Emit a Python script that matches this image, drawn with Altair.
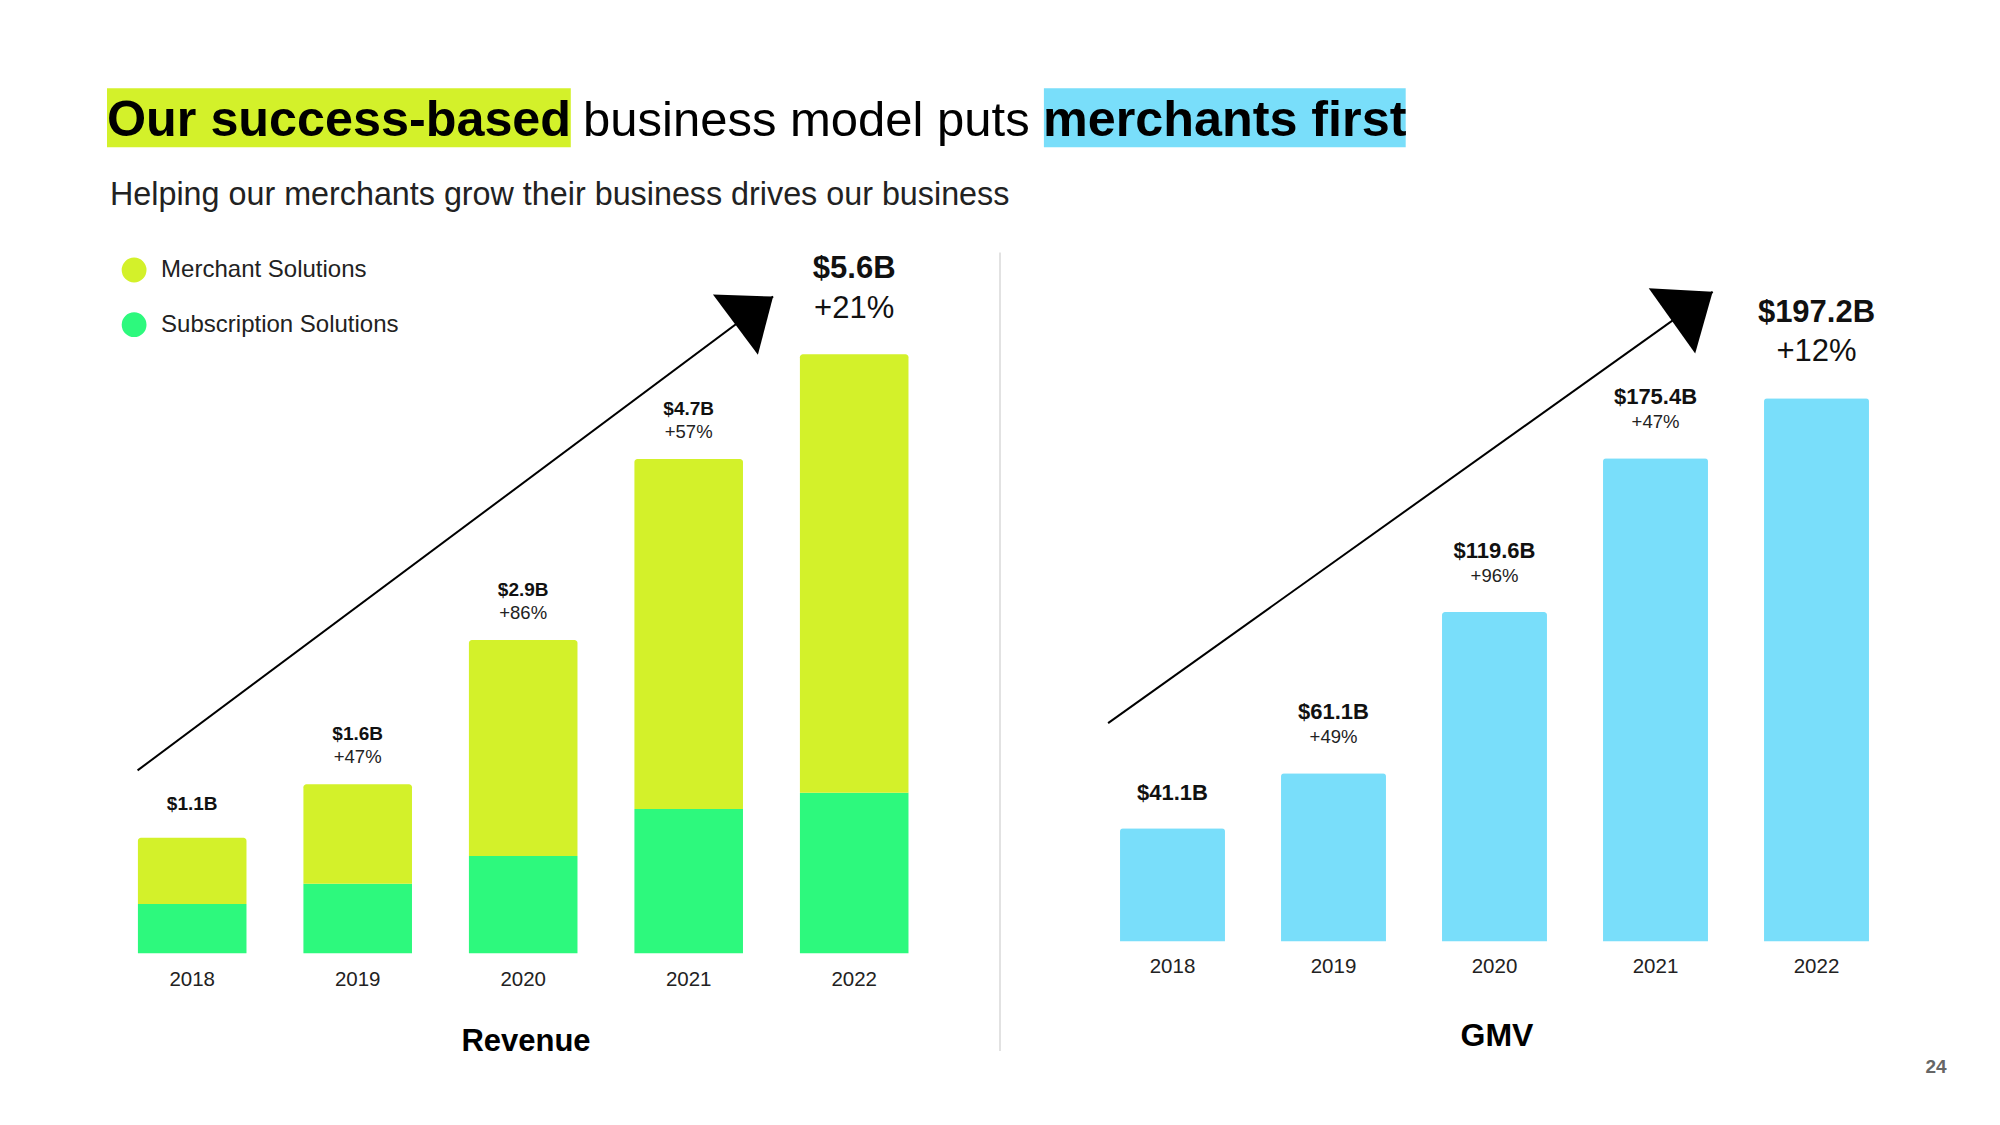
import altair as alt
import pandas as pd

# ---------------- data ----------------
years = ["2018", "2019", "2020", "2021", "2022"]
subscription_rev = [0.46, 0.65, 0.91, 1.35, 1.50]   # $B
merchant_rev = [0.62, 0.93, 2.02, 3.27, 4.10]        # $B
revenue_labels = ["$1.1B", "$1.6B", "$2.9B", "$4.7B", "$5.6B"]
revenue_growth = ["", "+47%", "+86%", "+57%", "+21%"]

gmv = [41.1, 61.1, 119.6, 175.4, 197.2]              # $B
gmv_labels = ["$41.1B", "$61.1B", "$119.6B", "$175.4B", "$197.2B"]
gmv_growth = ["", "+49%", "+96%", "+47%", "+12%"]

segments = ["Merchant Solutions", "Subscription Solutions"]
title_parts = ["Our success-based", "business model puts", "merchants first"]
subtitle = "Helping our merchants grow their business drives our business"
panel_titles = ["Revenue", "GMV"]
page_number = "24"

# trend arrows: x in year-index units, y in value units ($B)
rev_arrow_x = [-0.33, 3.51]
rev_arrow_y = [1.71, 6.14]
gmv_arrow_x = [-0.40, 3.355]
gmv_arrow_y = [79.3, 235.8]

# ---------------- style ----------------
W, H = 1984, 1109
FONT = "Liberation Sans"
C_MERCH = "#D3F12A"
C_SUB = "#2DF97D"
C_GMV = "#79DEFA"
HEAD = "M0,0L-2,-1.6L-2,1.6Z"

rev_x_scale = alt.Scale(domain=years, range=[101.45, 928.95], paddingInner=0.344, paddingOuter=0.172)
rev_xq_scale = alt.Scale(domain=[-0.5, 4.5], range=[101.45, 928.95], nice=False, zero=False)
rev_y_scale = alt.Scale(domain=[0, 6], range=[945.3, 303.5], nice=False, zero=False)
gmv_x_scale = alt.Scale(domain=years, range=[1084, 1889], paddingInner=0.348, paddingOuter=0.174)
gmv_xq_scale = alt.Scale(domain=[-0.5, 4.5], range=[1084, 1889], nice=False, zero=False)
gmv_y_scale = alt.Scale(domain=[0, 200], range=[933.6, 382.5], nice=False, zero=False)

# ---------------- tables ----------------
seg_rows = []
for y, s, m in zip(years, subscription_rev, merchant_rev):
    seg_rows.append({"year": y, "segment": "Subscription Solutions", "lo": 0.0, "hi": s})
    seg_rows.append({"year": y, "segment": "Merchant Solutions", "lo": s, "hi": s + m})
seg_df = pd.DataFrame(seg_rows)

rev_df = pd.DataFrame({
    "year": years,
    "total": [s + m for s, m in zip(subscription_rev, merchant_rev)],
    "label": revenue_labels,
    "growth": revenue_growth,
})
gmv_df = pd.DataFrame({"year": years, "value": gmv, "label": gmv_labels, "growth": gmv_growth})

rev_arrow = pd.DataFrame({"x": rev_arrow_x, "y": rev_arrow_y})
gmv_arrow = pd.DataFrame({"x": gmv_arrow_x, "y": gmv_arrow_y})

color_enc = alt.Color(
    "segment:N",
    scale=alt.Scale(domain=segments, range=[C_MERCH, C_SUB]),
    legend=alt.Legend(
        title=None, orient="none", legendX=113.6, legendY=249.5, direction="vertical",
        symbolType="circle", symbolSize=616, symbolStrokeWidth=0,
        labelFont=FONT, labelFontSize=24, labelColor="#222", labelOffset=14.5, labelLimit=0,
        rowPadding=29.7, padding=0,
    ),
)

layers = []

# ---------- revenue bars ----------
layers.append(
    alt.Chart(seg_df).transform_filter(alt.datum.segment == "Subscription Solutions")
    .mark_bar()
    .encode(
        x=alt.X("year:N", scale=rev_x_scale, axis=None),
        y=alt.Y("hi:Q", scale=rev_y_scale, axis=None),
        y2="lo:Q",
        color=color_enc,
    )
)
layers.append(
    alt.Chart(seg_df).transform_filter(alt.datum.segment == "Merchant Solutions")
    .mark_bar(cornerRadiusTopLeft=3, cornerRadiusTopRight=3)
    .encode(
        x=alt.X("year:N", scale=rev_x_scale, axis=None),
        y=alt.Y("hi:Q", scale=rev_y_scale, axis=None),
        y2="lo:Q",
        color=color_enc,
    )
)

# ---------- GMV bars ----------
layers.append(
    alt.Chart(gmv_df).mark_bar(color=C_GMV, cornerRadiusTopLeft=3, cornerRadiusTopRight=3)
    .encode(
        x=alt.X("year:N", scale=gmv_x_scale, axis=None),
        y=alt.Y("value:Q", scale=gmv_y_scale, axis=None),
    )
)


def label_layer(df, filt, xs, ys, yfield, textfield, dy, size, bold, color="#111"):
    return (
        alt.Chart(df).transform_filter(filt)
        .mark_text(dy=dy, fontSize=size, font=FONT, fontWeight="bold" if bold else "normal",
                   color=color, baseline="alphabetic", align="center")
        .encode(
            x=alt.X("year:N", scale=xs, axis=None),
            y=alt.Y(f"{yfield}:Q", scale=ys, axis=None),
            text=f"{textfield}:N",
        )
    )


first = "datum.year == '2018'"
middle = "datum.year != '2018' && datum.year != '2022'"
last = "datum.year == '2022'"

# revenue labels
layers += [
    label_layer(rev_df, first, rev_x_scale, rev_y_scale, "total", "label", -28, 19, True),
    label_layer(rev_df, middle, rev_x_scale, rev_y_scale, "total", "label", -44, 19, True),
    label_layer(rev_df, middle, rev_x_scale, rev_y_scale, "total", "growth", -21, 18.5, False, "#222"),
    label_layer(rev_df, last, rev_x_scale, rev_y_scale, "total", "label", -76, 31, True),
    label_layer(rev_df, last, rev_x_scale, rev_y_scale, "total", "growth", -36, 31, False),
]
# gmv labels
layers += [
    label_layer(gmv_df, first, gmv_x_scale, gmv_y_scale, "value", "label", -28, 22, True),
    label_layer(gmv_df, middle, gmv_x_scale, gmv_y_scale, "value", "label", -54, 22, True),
    label_layer(gmv_df, middle, gmv_x_scale, gmv_y_scale, "value", "growth", -30, 18.5, False, "#222"),
    label_layer(gmv_df, last, gmv_x_scale, gmv_y_scale, "value", "label", -76, 31, True),
    label_layer(gmv_df, last, gmv_x_scale, gmv_y_scale, "value", "growth", -37, 31, False),
]

# year labels under bars
for df, xs, ys, dy in [(rev_df, rev_x_scale, rev_y_scale, 32.7), (gmv_df, gmv_x_scale, gmv_y_scale, 31.7)]:
    layers.append(
        alt.Chart(df).transform_calculate(base="0")
        .mark_text(dy=dy, fontSize=20.5, font=FONT, color="#222", baseline="alphabetic", align="center")
        .encode(
            x=alt.X("year:N", scale=xs, axis=None),
            y=alt.Y("base:Q", scale=ys, axis=None),
            text="year:N",
        )
    )

# ---------- arrows ----------
for adf, xs, ys, angle, size in [
    (rev_arrow, rev_xq_scale, rev_y_scale, 323.3, 2209),
    (gmv_arrow, gmv_xq_scale, gmv_y_scale, 324.5, 2500),
]:
    layers.append(
        alt.Chart(adf).mark_line(color="black", strokeWidth=2)
        .encode(x=alt.X("x:Q", scale=xs, axis=None), y=alt.Y("y:Q", scale=ys, axis=None))
    )
    layers.append(
        alt.Chart(adf).transform_filter("datum.x > 0")
        .mark_point(shape=HEAD, angle=angle, size=size, filled=True, color="black", opacity=1, strokeWidth=0)
        .encode(x=alt.X("x:Q", scale=xs, axis=None), y=alt.Y("y:Q", scale=ys, axis=None))
    )

# ---------- title block ----------
one = pd.DataFrame({"k": [0]})
layers.append(
    alt.Chart(one).mark_rect(color=C_MERCH)
    .encode(x=alt.value(99), x2=alt.value(562.8), y=alt.value(80.3), y2=alt.value(139.3))
)
layers.append(
    alt.Chart(one).mark_rect(color=C_GMV)
    .encode(x=alt.value(1035.9), x2=alt.value(1397.7), y=alt.value(80.3), y2=alt.value(139.3))
)
for txt, xpos, size, bold in [
    (title_parts[0], 99, 50.3, True),
    (title_parts[1], 575, 49, False),
    (title_parts[2], 1035, 50.3, True),
]:
    layers.append(
        alt.Chart(pd.DataFrame({"t": [txt]}))
        .mark_text(font=FONT, fontSize=size, fontWeight="bold" if bold else "normal",
                   color="black", align="left", baseline="alphabetic")
        .encode(x=alt.value(xpos), y=alt.value(127.7), text="t:N")
    )
layers.append(
    alt.Chart(pd.DataFrame({"t": [subtitle]}))
    .mark_text(font=FONT, fontSize=32.3, color="#222", align="left", baseline="alphabetic")
    .encode(x=alt.value(102), y=alt.value(197), text="t:N")
)

# panel titles and page number
for txt, xpos, ypos, size, col in [
    (panel_titles[0], 518, 1042.7, 31, "black"),
    (panel_titles[1], 1489, 1037.7, 32, "black"),
    (page_number, 1928, 1065, 19, "#666"),
]:
    layers.append(
        alt.Chart(pd.DataFrame({"t": [txt]}))
        .mark_text(font=FONT, fontSize=size, fontWeight="bold", color=col, align="center", baseline="alphabetic")
        .encode(x=alt.value(xpos), y=alt.value(ypos), text="t:N")
    )

# divider
layers.append(
    alt.Chart(one).mark_rule(color="#d9d9d9", strokeWidth=1.5)
    .encode(x=alt.value(992), y=alt.value(244.5), y2=alt.value(1043))
)

chart = (
    alt.layer(*layers)
    .resolve_scale(x="independent", y="independent")
    .properties(width=W, height=H, autosize=alt.AutoSizeParams(type="none"), padding=0, background="white")
    .configure_view(stroke=None)
)

chart.save("out.html", embed_options={"renderer": "svg", "actions": False})
